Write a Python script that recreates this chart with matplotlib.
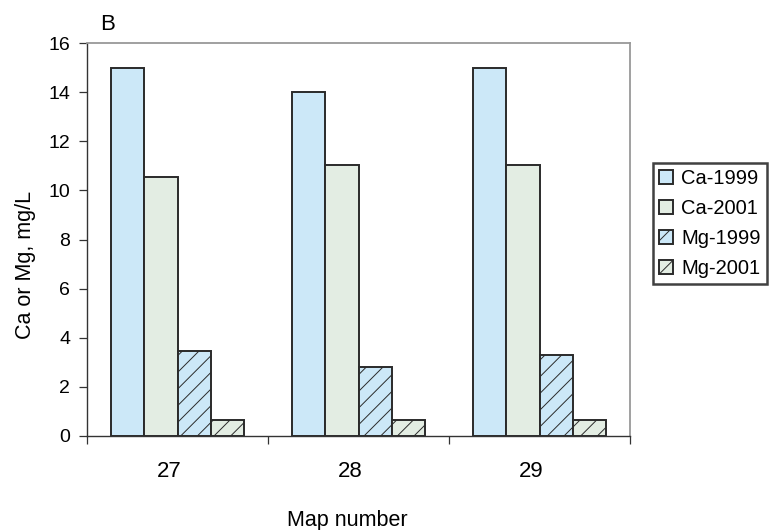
import matplotlib
matplotlib.use('Agg')
import matplotlib.pyplot as plt
import matplotlib.transforms as mtransforms
import numpy as np

plt.rcParams['font.family'] = ['Liberation Sans', 'DejaVu Sans']
plt.rcParams['hatch.linewidth'] = 0.7
plt.rcParams['hatch.color'] = '#222222'

# Ca and Mg concentrations per map number
map_numbers = ['27', '28', '29']
series_names = ['Ca-1999', 'Ca-2001', 'Mg-1999', 'Mg-2001']
ca_1999 = [15.0, 14.0, 15.0]
ca_2001 = [10.55, 11.05, 11.05]
mg_1999 = [3.45, 2.8, 3.3]
mg_2001 = [0.65, 0.65, 0.65]

colors = ['#cce8f8', '#e3ede3', '#cce8f8', '#e3ede3']
hatches = [None, None, '//', '//']

W, H = 775, 530
fig = plt.figure(figsize=(W / 100, H / 100), dpi=100)
ax = fig.add_axes([87 / W, 1 - 436 / H, (630 - 87) / W, (436 - 43) / H])

x = np.arange(len(map_numbers))
width = 0.183
for i, (name, vals) in enumerate(zip(series_names, [ca_1999, ca_2001, mg_1999, mg_2001])):
    ax.bar(x + (i - 1.5) * width, vals, width, color=colors[i], edgecolor='#2a2a2a',
           linewidth=1.4, hatch=hatches[i], label=name, zorder=2)

ax.set_xlim(-0.5, len(map_numbers) - 0.5)
ax.set_ylim(0, 16)
ax.set_yticks(np.arange(0, 17, 2))

# category labels centred, ticks at group boundaries
ax.set_xticks(np.arange(-0.5, len(map_numbers)), labels=[])
ax.set_xticks(x, labels=map_numbers, minor=True)
ax.tick_params(axis='x', which='major', length=6, width=0.9, direction='out', color='#333333')
ax.tick_params(axis='x', which='minor', length=0, labelsize=16, pad=18)
ax.tick_params(axis='y', length=6, width=0.9, direction='out', labelsize=14, pad=6,
               color='#333333')
shift = mtransforms.ScaledTranslation(-0.08, 0, fig.dpi_scale_trans)
for lbl in ax.get_xticklabels(minor=True):
    lbl.set_transform(lbl.get_transform() + shift)

for side in ['top', 'right']:
    ax.spines[side].set_color('#999999')
    ax.spines[side].set_linewidth(1.3)
for side in ['left', 'bottom']:
    ax.spines[side].set_color('#333333')
    ax.spines[side].set_linewidth(1.0)

fig.text(26 / W, 1 - 265 / H, 'Ca or Mg, mg/L', rotation=90, ha='center', va='center',
         fontsize=15.5)
fig.text(347 / W, 1 - 526 / H, 'Map number', ha='center', va='baseline', fontsize=15.5)
fig.text(100 / W, 1 - 30 / H, 'B', ha='left', va='baseline', fontsize=16)

leg = ax.legend(loc='upper left', bbox_to_anchor=(653 / W, 1 - 163 / H),
                bbox_transform=fig.transFigure, fontsize=14.5,
                frameon=True, fancybox=False, edgecolor='#111111',
                handlelength=0.7, handleheight=0.7, handletextpad=0.4,
                borderpad=0.3, labelspacing=0.55, borderaxespad=0)
leg.get_frame().set_linewidth(1.8)

fig.savefig('out.png', dpi=100)
